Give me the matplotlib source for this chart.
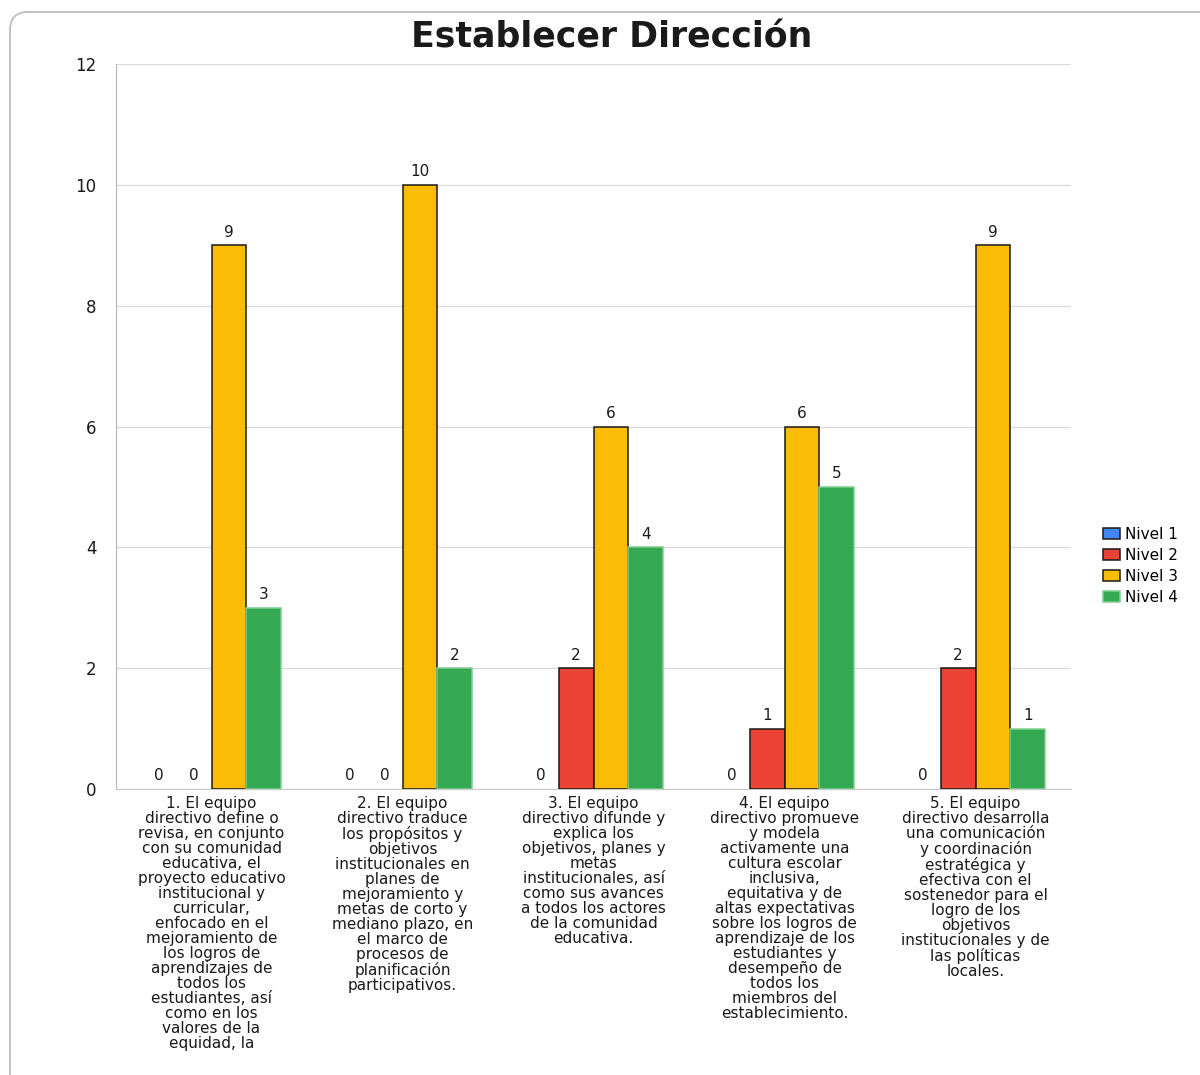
import numpy as np
import matplotlib
matplotlib.use('Agg')
import matplotlib.pyplot as plt
from matplotlib.patches import FancyBboxPatch
from matplotlib.transforms import IdentityTransform

plt.rcParams['font.family'] = ['DejaVu Sans']

categorias = [
    "1. El equipo\ndirectivo define o\nrevisa, en conjunto\ncon su comunidad\neducativa, el\n"
    "proyecto educativo\ninstitucional y\ncurricular,\nenfocado en el\nmejoramiento de\n"
    "los logros de\naprendizajes de\ntodos los\nestudiantes, así\ncomo en los\n"
    "valores de la\nequidad, la",
    "2. El equipo\ndirectivo traduce\nlos propósitos y\nobjetivos\ninstitucionales en\n"
    "planes de\nmejoramiento y\nmetas de corto y\nmediano plazo, en\nel marco de\n"
    "procesos de\nplanificación\nparticipativos.",
    "3. El equipo\ndirectivo difunde y\nexplica los\nobjetivos, planes y\nmetas\n"
    "institucionales, así\ncomo sus avances\na todos los actores\nde la comunidad\n"
    "educativa.",
    "4. El equipo\ndirectivo promueve\ny modela\nactivamente una\ncultura escolar\n"
    "inclusiva,\nequitativa y de\naltas expectativas\nsobre los logros de\n"
    "aprendizaje de los\nestudiantes y\ndesempeño de\ntodos los\nmiembros del\n"
    "establecimiento.",
    "5. El equipo\ndirectivo desarrolla\nuna comunicación\ny coordinación\nestratégica y\n"
    "efectiva con el\nsostenedor para el\nlogro de los\nobjetivos\n"
    "institucionales y de\nlas políticas\nlocales.",
]
series = ['Nivel 1', 'Nivel 2', 'Nivel 3', 'Nivel 4']
nivel1 = [0, 0, 0, 0, 0]
nivel2 = [0, 0, 2, 1, 2]
nivel3 = [9, 10, 6, 6, 9]
nivel4 = [3, 2, 4, 5, 1]
valores = [nivel1, nivel2, nivel3, nivel4]

colores = ['#4285F4', '#EA4335', '#FABC05', '#34A853']
bordes = ['#1a1a1a', '#1a1a1a', '#1a1a1a', '#7fcf8f']

fig = plt.figure(figsize=(12, 10.75), dpi=100)
ax = fig.add_axes([0.0967, 0.2660, 0.7958, 0.6745])

x = np.arange(len(categorias))
w = 0.183
for i, (nombre, vals) in enumerate(zip(series, valores)):
    mostrar = [v != 0 or i < 2 for v in vals]
    grosor = [1.1 if v else 0 for v in vals]
    bars = ax.bar(x + (i - 1.5) * w, vals, w, color=colores[i], edgecolor=bordes[i],
                  linewidth=grosor, label=nombre, zorder=3)
    labels = [str(v) if m else '' for v, m in zip(vals, mostrar)]
    ax.bar_label(bars, labels=labels, padding=4, fontsize=11, color='#1a1a1a')

ax.set_xlim(-0.5, 4.5)
ax.set_ylim(0, 12)
ax.set_yticks(range(0, 13, 2))
ax.set_xticks(x)
ax.set_xticklabels(categorias, fontsize=11, linespacing=1.0, color='#1a1a1a',
                   multialignment='center')
ax.tick_params(axis='both', length=0)
ax.tick_params(axis='x', pad=5)
ax.tick_params(axis='y', pad=14, labelsize=12, labelcolor='#1a1a1a')
ax.grid(axis='y', color='#dcdcdc', linewidth=1, zorder=0)
for s in ['top', 'right']:
    ax.spines[s].set_visible(False)
ax.spines['left'].set_color('#b5b5b5')
ax.spines['bottom'].set_color('#c8c8c8')

fig.text(0.51, 0.9655, 'Establecer Dirección', fontsize=25, fontweight='bold',
         ha='center', va='center', color='#1a1a1a')

# legend handles: Nivel 1-3 with dark edge, Nivel 4 plain
handles, etiquetas = ax.get_legend_handles_labels()
leg = ax.legend(handles, etiquetas, loc='center left', bbox_to_anchor=(0.919, 0.4735),
                bbox_transform=fig.transFigure, frameon=False, fontsize=11,
                handlelength=1.1, handleheight=0.7, handletextpad=0.35,
                labelspacing=0.4, borderpad=0, borderaxespad=0)
for h, c, b in zip(leg.legend_handles, colores, bordes):
    h.set_linewidth(1.1)
    h.set_edgecolor(b)

marco = FancyBboxPatch((10, -60), 1260, 1063 + 60, boxstyle='round,pad=0,rounding_size=18',
                       transform=IdentityTransform(), facecolor='none',
                       edgecolor='#b8b8b8', linewidth=1.2)
fig.add_artist(marco)

fig.savefig('out.png', dpi=100)
